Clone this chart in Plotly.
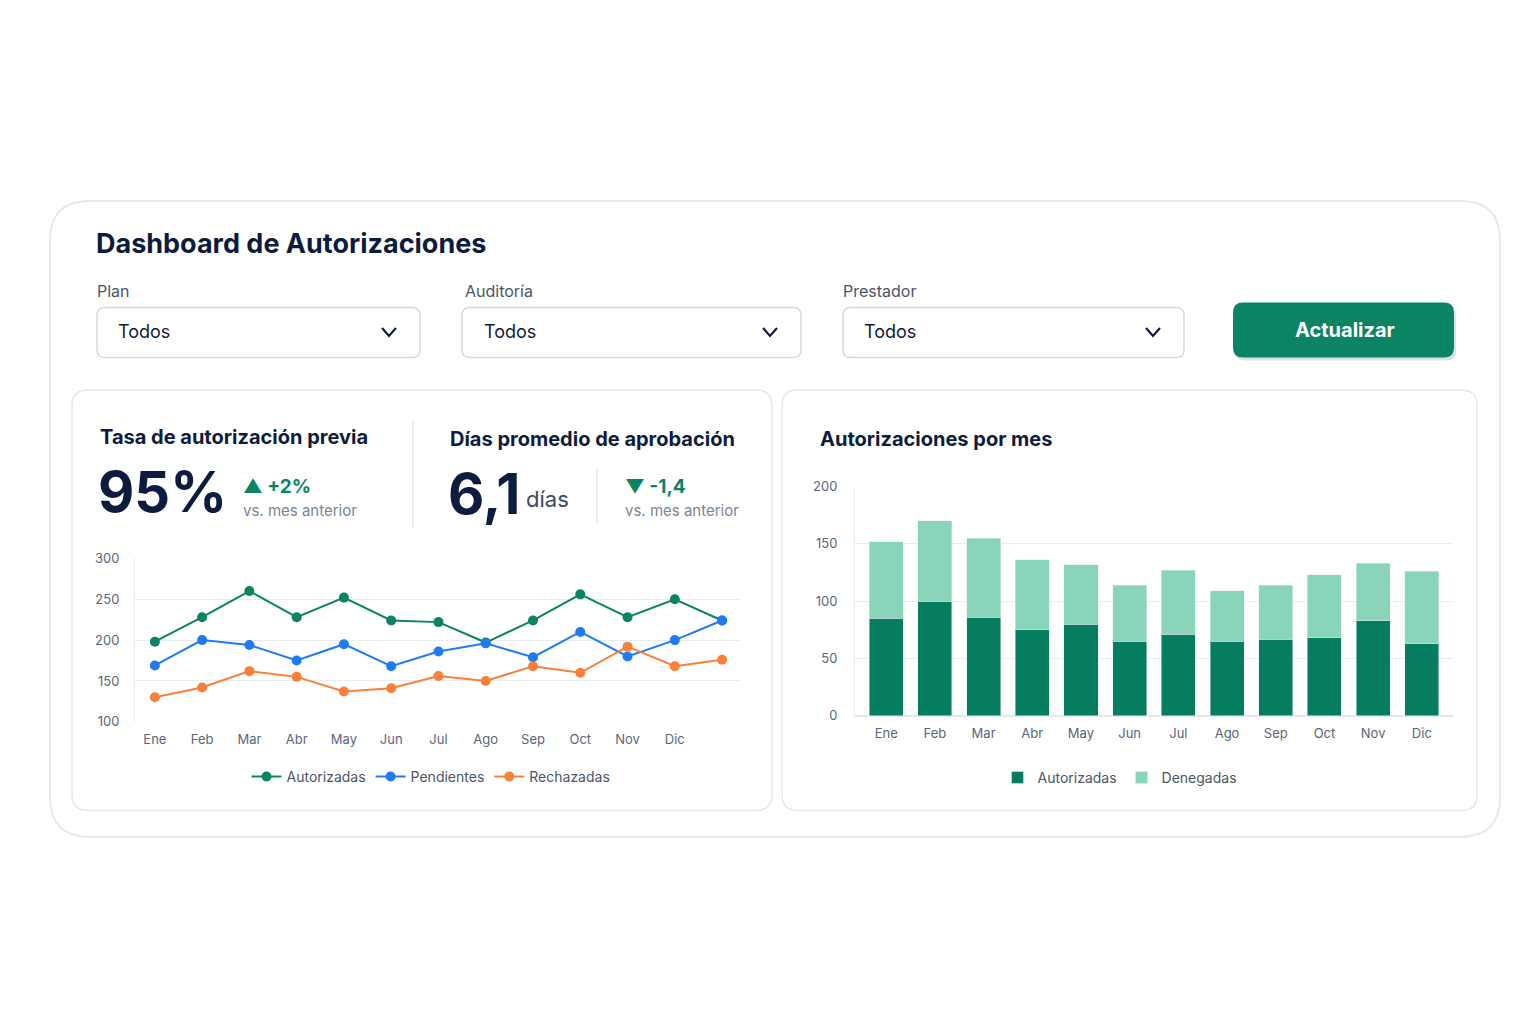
import plotly.graph_objects as go

W, H = 1536, 1024

meses = ['Ene', 'Feb', 'Mar', 'Abr', 'May', 'Jun', 'Jul', 'Ago', 'Sep', 'Oct', 'Nov', 'Dic']
# the line chart has 13 points for 12 labels
autorizadas_linea = [198, 228, 260, 228, 252, 224, 222, 197, 224, 256, 228, 250, 224]
pendientes = [169, 200, 194, 175, 195, 168, 186, 196, 179, 210, 180, 200, 224]
rechazadas = [130, 142, 162, 155, 137, 141, 156, 150, 168, 160, 192, 168, 176]

autorizadas_bar = [85, 100, 86, 75, 80, 65, 71, 65, 67, 68, 83, 63]
denegadas = [67, 70, 69, 61, 52, 49, 56, 44, 47, 55, 50, 63]

GREEN = '#0a8463'
BLUE = '#1f7bf2'
ORANGE = '#f7803a'
DARK = '#0d1b3e'
GRAY = '#7a8599'
FONT = 'Inter'


def px(x):
    return x / W


def py(y):
    return 1 - y / H


def rrect(x0, y0, x1, y1, r):
    X = lambda v: px(v)
    Y = lambda v: py(v)
    return (f'M {X(x0+r)},{Y(y0)} L {X(x1-r)},{Y(y0)} Q {X(x1)},{Y(y0)} {X(x1)},{Y(y0+r)} '
            f'L {X(x1)},{Y(y1-r)} Q {X(x1)},{Y(y1)} {X(x1-r)},{Y(y1)} '
            f'L {X(x0+r)},{Y(y1)} Q {X(x0)},{Y(y1)} {X(x0)},{Y(y1-r)} '
            f'L {X(x0)},{Y(y0+r)} Q {X(x0)},{Y(y0)} {X(x0+r)},{Y(y0)} Z')


fig = go.Figure()

xs = list(range(len(autorizadas_linea)))
for name, vals, col in [('Autorizadas', autorizadas_linea, GREEN),
                        ('Pendientes', pendientes, BLUE),
                        ('Rechazadas', rechazadas, ORANGE)]:
    fig.add_trace(go.Scatter(x=xs, y=vals, name=name, mode='lines+markers',
                             line=dict(color=col, width=2), marker=dict(size=10, color=col),
                             xaxis='x', yaxis='y', legend='legend'))

bx = list(range(len(meses)))
fig.add_trace(go.Bar(x=bx, y=autorizadas_bar, name='Autorizadas', marker_color='#067d5e',
                     xaxis='x2', yaxis='y2', legend='legend2'))
fig.add_trace(go.Bar(x=bx, y=denegadas, name='Denegadas', marker_color='#8ad5b9',
                     xaxis='x2', yaxis='y2', legend='legend2'))

shapes = []
# outer card
shapes.append(dict(type='path', path=rrect(42, 188, 1492, 834, 40), line=dict(color='#e6e9ef', width=2),
                   fillcolor='white', xref='paper', yref='paper', layer='below'))
# inner cards
shapes.append(dict(type='path', path=rrect(64, 380, 764, 807, 16), line=dict(color='#e3e7ee', width=1.5),
                   fillcolor='white', xref='paper', yref='paper', layer='below'))
shapes.append(dict(type='path', path=rrect(774, 380, 1469, 807, 16), line=dict(color='#e3e7ee', width=1.5),
                   fillcolor='white', xref='paper', yref='paper', layer='below'))
# dropdowns
for x0, x1 in [(89, 412), (454, 793), (835, 1176)]:
    shapes.append(dict(type='path', path=rrect(x0, 296, x1, 347, 8), line=dict(color='#d3d9e3', width=1.5),
                       fillcolor='white', xref='paper', yref='paper', layer='below'))
    cx = x1 - 31
    shapes.append(dict(type='path', path=f'M {px(cx-7)},{py(317)} L {px(cx)},{py(325)} L {px(cx+7)},{py(317)}',
                       line=dict(color=DARK, width=2.2), xref='paper', yref='paper'))
# button
shapes.append(dict(type='path', path=rrect(1227, 295, 1448, 350, 10), line=dict(color='#e3ece8', width=0),
                   fillcolor='#d9e3df', xref='paper', yref='paper', layer='below'))
shapes.append(dict(type='path', path=rrect(1225, 291, 1446, 347, 10), line=dict(width=0),
                   fillcolor=GREEN, xref='paper', yref='paper', layer='below'))
# dividers
shapes.append(dict(type='line', x0=px(405), x1=px(405), y0=py(412), y1=py(520), xref='paper', yref='paper',
                   line=dict(color='#e3e7ee', width=1.5)))
shapes.append(dict(type='line', x0=px(589), x1=px(589), y0=py(460), y1=py(515), xref='paper', yref='paper',
                   line=dict(color='#e3e7ee', width=1.5)))

ann = []


def text(x, y, t, size, color=DARK, bold=False, xanchor='left'):
    ann.append(dict(x=px(x), y=py(y), xref='paper', yref='paper', text=f'<b>{t}</b>' if bold else t,
                    showarrow=False, xanchor=xanchor, yanchor='middle',
                    font=dict(family=FONT, size=size, color=color)))


text(86, 231, 'Dashboard de Autorizaciones', 27, bold=True)
text(87, 279, 'Plan', 16, '#4a5568')
text(455, 279, 'Auditoría', 16, '#4a5568')
text(833, 279, 'Prestador', 16, '#4a5568')
text(108, 321, 'Todos', 18)
text(474, 321, 'Todos', 18)
text(854, 321, 'Todos', 18)
text(1337, 319, 'Actualizar', 20, 'white', bold=True, xanchor='center')
text(90, 428, 'Tasa de autorización previa', 20, bold=True)
text(88, 484, '95%', 56, bold=True)
text(233, 478, '▲ +2%', 19, GREEN, bold=True)
text(233, 502, 'vs. mes anterior', 15, GRAY)
text(440, 430, 'Días promedio de aprobación', 20, bold=True)
text(438, 486, '6,1', 56, bold=True)
text(516, 491, 'días', 22, '#3d4a63')
text(615, 478, '▼ -1,4', 19, GREEN, bold=True)
text(615, 502, 'vs. mes anterior', 15, GRAY)
text(810, 430, 'Autorizaciones por mes', 20, bold=True)

axfont = dict(family=FONT, size=13, color='#5a6578')
fig.update_layout(
    width=W, height=H, margin=dict(l=0, r=0, t=0, b=0),
    paper_bgcolor='white', plot_bgcolor='white',
    shapes=shapes, annotations=ann, barmode='stack', bargap=0.3,
    xaxis=dict(domain=[px(127), px(733)], range=[-0.42, 12.4], tickvals=list(range(12)), ticktext=meses,
               showgrid=False, zeroline=False, showline=False, tickfont=axfont, ticks='', ticklabelstandoff=8),
    yaxis=dict(domain=[py(717), py(551)], range=[100, 300], dtick=50, gridcolor='#e8ecf2', zeroline=False,
               showline=True, linecolor='#e8ecf2', tickfont=axfont, ticklabelstandoff=12),
    xaxis2=dict(domain=[px(847), px(1445)], range=[-0.64, 11.64], tickvals=bx, ticktext=meses,
                showgrid=False, zeroline=False, tickfont=axfont, ticklabelstandoff=8, anchor='y2'),
    yaxis2=dict(domain=[py(711), py(478)], range=[0, 200], dtick=50, gridcolor='#e8ecf2', zeroline=True,
                zerolinecolor='#e3e7ee', showline=True, linecolor='#e8ecf2', tickfont=axfont,
                ticklabelstandoff=14, anchor='x2'),
    legend=dict(orientation='h', x=px(423), y=py(773), xanchor='center', yanchor='middle',
                font=dict(family=FONT, size=14, color='#4a5568'), itemwidth=30),
    legend2=dict(orientation='h', x=px(1112), y=py(774), xanchor='center', yanchor='middle',
                 font=dict(family=FONT, size=14, color='#4a5568'), traceorder='normal'),
)

fig.write_html('out.html')
